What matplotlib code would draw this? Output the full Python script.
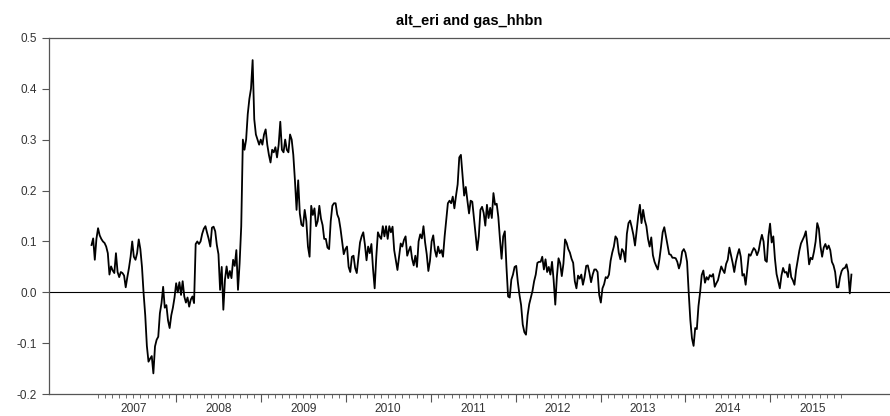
import matplotlib
matplotlib.use("Agg")
import matplotlib.pyplot as plt
import matplotlib.dates as mdates
import pandas as pd
import datetime as dt

plt.rcParams['font.family'] = ['Liberation Sans', 'DejaVu Sans']

# weekly values, starting first week of 2007
spread = [
    .093, .106, .064, .105, .126, .112, .105, .100, .097, .090,
    .077, .035, .051, .043, .038, .077, .040, .030, .040, .038,
    .033, .010, .030, .048, .070, .100, .070, .064, .077, .104,
    .085, .050, -.002, -.045, -.105, -.136, -.130, -.125, -.159, -.106,
    -.093, -.087, -.041, -.021, .011, -.030, -.025, -.055, -.070, -.045,
    -.030, -.010, .018, .000, .020, -.005, .022, -.008, -.020, -.010,
    -.028, -.014, -.008, -.021, .095, .100, .095, .100, .115, .125,
    .130, .117, .105, .090, .127, .129, .120, .093, .075, .005,
    .050, -.034, .025, .051, .028, .042, .028, .064, .052, .083,
    .005, .057, .130, .300, .280, .300, .350, .380, .400, .456,
    .340, .310, .300, .290, .300, .290, .310, .320, .290, .270,
    .255, .280, .275, .285, .265, .290, .335, .280, .275, .300,
    .280, .275, .310, .300, .270, .220, .162, .220, .155, .133,
    .130, .162, .140, .090, .070, .170, .152, .165, .130, .140,
    .170, .145, .132, .105, .105, .088, .085, .140, .170, .175,
    .175, .153, .145, .125, .100, .075, .085, .090, .050, .040,
    .070, .072, .048, .038, .068, .098, .110, .118, .094, .063,
    .090, .077, .095, .046, .008, .070, .118, .110, .105, .130,
    .110, .130, .105, .130, .118, .129, .083, .064, .044, .070,
    .096, .090, .103, .110, .072, .082, .090, .066, .053, .072,
    .050, .100, .114, .106, .130, .098, .075, .042, .062, .100,
    .112, .083, .070, .090, .077, .083, .070, .110, .142, .175,
    .180, .175, .188, .165, .190, .212, .265, .270, .230, .190,
    .207, .180, .155, .180, .178, .147, .115, .083, .110, .162,
    .168, .156, .131, .172, .146, .166, .146, .195, .172, .174,
    .148, .105, .066, .110, .120, .050, -.008, -.010, .025, .035,
    .050, .052, .020, -.005, -.025, -.063, -.078, -.083, -.045, -.023,
    -.010, .003, .022, .035, .058, .060, .060, .070, .045, .065,
    .040, .050, .035, .060, .024, -.024, .031, .067, .057, .032,
    .056, .104, .097, .085, .078, .066, .058, .022, .008, .033,
    .027, .035, .015, .030, .052, .053, .038, .020, .035, .045,
    .045, .040, -.005, -.020, .008, .016, .030, .028, .035, .062,
    .078, .090, .110, .105, .078, .065, .085, .080, .060, .115,
    .136, .141, .128, .113, .092, .122, .150, .172, .136, .162,
    .142, .130, .105, .090, .108, .073, .060, .052, .045, .065,
    .090, .118, .128, .110, .093, .075, .074, .068, .068, .067,
    .060, .047, .058, .080, .085, .078, .060, .000, -.054, -.090,
    -.105, -.070, -.072, -.027, .000, .034, .043, .019, .030, .025,
    .034, .031, .036, .011, .018, .024, .038, .051, .044, .038,
    .056, .064, .088, .073, .058, .040, .060, .074, .085, .070,
    .033, .036, .015, .045, .075, .072, .080, .087, .083, .073,
    .082, .100, .113, .100, .063, .060, .110, .135, .098, .110,
    .066, .036, .022, .008, .033, .048, .039, .040, .030, .055,
    .030, .024, .015, .044, .063, .082, .096, .103, .110, .120,
    .090, .055, .068, .065, .080, .100, .136, .125, .090, .070,
    .088, .095, .085, .092, .083, .060, .053, .040, .010, .010,
    .030, .042, .047, .048, .055, .040, -.002, .035,
]
dates = pd.date_range("2007-01-03", periods=len(spread), freq="7D")
years = list(range(2007, 2016))
yticks = [-0.2, -0.1, 0.0, 0.1, 0.2, 0.3, 0.4, 0.5]

fig = plt.figure(figsize=(8.9, 4.16), dpi=100)
ax = fig.add_axes([0.0554, 0.0522, 0.9446, 0.8572])

ax.plot(dates, spread, color='black', lw=1.3)
ax.axhline(0.0, color='black', lw=0.8)

x0 = mdates.date2num(dt.datetime(2007, 1, 1))
ax.set_xlim(x0 - 0.492 * 365.25, x0 + 9.41 * 365.25)
ax.set_ylim(-0.2, 0.5)

# y axis
ax.set_yticks(yticks)
ax.set_yticklabels(['%.1f' % v for v in yticks])
ax.tick_params(axis='y', direction='out', length=5, width=0.8, color='#555555',
               labelsize=8.5, labelcolor='#333333', pad=4)

# x axis: year boundaries as major, months as minor, labels centred in each year
ax.set_xticks([dt.datetime(y, 1, 1) for y in years[1:]])
ax.set_xticklabels([])
months = [dt.datetime(y, m, 1) for y in years for m in range(2, 13)]
months = [d for d in months if d < dt.datetime(2015, 12, 1)]
ax.set_xticks(months, minor=True)
ax.tick_params(axis='x', which='major', direction='out', length=5.5, width=0.8,
               color='#555555')
ax.tick_params(axis='x', which='minor', direction='out', length=3, width=0.6,
               color='#555555')
for y in years:
    ax.text(dt.datetime(y, 7, 2), -0.2355, str(y), clip_on=False,
            ha='center', va='baseline', fontsize=8.6, color='#333333')

for side in ['left', 'bottom', 'top']:
    ax.spines[side].set_color('#555555')
    ax.spines[side].set_linewidth(0.9)
ax.spines['right'].set_visible(False)

ax.set_title('alt_eri and gas_hhbn', fontsize=10.5, fontweight='bold', pad=9)

fig.savefig('out.png', dpi=100)
